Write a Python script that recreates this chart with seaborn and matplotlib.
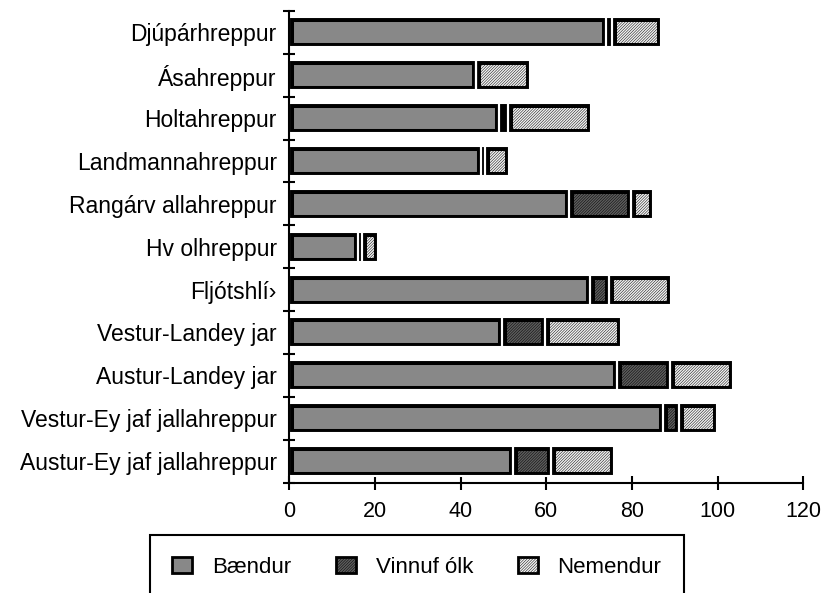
import matplotlib
matplotlib.use('Agg')
import matplotlib.pyplot as plt
from matplotlib.patches import Patch, Rectangle
import numpy as np
import pandas as pd
import seaborn as sns

# Hreppar from top to bottom, as they are written in the chart
hreppar = ['Djúpárhreppur', 'Ásahreppur', 'Holtahreppur', 'Landmannahreppur',
           'Rangárv allahreppur', 'Hv olhreppur', 'Fljótshlí›', 'Vestur-Landey jar',
           'Austur-Landey jar', 'Vestur-Ey jaf jallahreppur', 'Austur-Ey jaf jallahreppur']

# Values
baendur = [74, 43.5, 49, 44.8, 65.2, 16, 70.3, 49.7, 76.5, 87.2, 52.2]
vinnufolk = [1.3, 0, 2, 1, 14.5, 1, 4.3, 10, 12.5, 3.8, 8.8]
nemendur = [11.5, 12.7, 19.4, 5.6, 5.3, 3.8, 14.6, 17.8, 14.7, 8.9, 14.7]

series_names = ['Bændur', 'Vinnuf ólk', 'Nemendur']
x_ticks = [0, 20, 40, 60, 80, 100, 120]

df = pd.DataFrame({'hreppur': hreppar,
                   'Bændur': baendur,
                   'Vinnuf ólk': vinnufolk,
                   'Nemendur': nemendur})

sns.set_style('ticks', rc={'axes.edgecolor': 'black', 'text.color': 'black',
                           'xtick.color': 'black', 'ytick.color': 'black'})
plt.rcParams['font.family'] = ['Liberation Sans', 'DejaVu Sans']
plt.rcParams['hatch.linewidth'] = 0.35

fills = ['#888888', '#5e5e5e', '#f2f2f2']
hatches = [None, '////////////', '////////////']

fig = plt.figure(figsize=(8.27, 5.93), dpi=100)
ax = fig.add_axes([0.3498, 0.1863, 0.6215, 0.7952])

# stacked bars, each series starts where the previous ended
left = np.zeros(len(df))
for name, fill, hatch in zip(series_names, fills, hatches):
    sns.barplot(data=df, x=name, y='hreppur', left=left, color=fill, saturation=1,
                width=0.7, errorbar=None, edgecolor='black', linewidth=6.5,
                hatch=hatch, ax=ax)
    left = left + df[name].values

# black border drawn inside each segment, thin white gap between segments
for p in list(ax.patches):
    p.set_clip_path(p)
    ax.add_patch(Rectangle(p.get_xy(), p.get_width(), p.get_height(), fill=False,
                           edgecolor='white', linewidth=1.5, zorder=p.get_zorder() + 0.1))

ax.set_xlim(0, 120)
ax.set_xticks(x_ticks)
ax.set_ylim(len(hreppar) - 0.5, -0.5)
ax.set_yticks(np.arange(-0.5, len(hreppar)), minor=True)
ax.set_xlabel('')
ax.set_ylabel('')

ax.tick_params(axis='x', direction='inout', length=10, width=1.5, pad=8, labelsize=15.5)
ax.tick_params(axis='y', which='major', length=0, pad=9, labelsize=16.5)
ax.tick_params(axis='y', which='minor', direction='inout', length=9, width=1.5)

ax.spines[['top', 'right']].set_visible(False)
ax.spines[['left', 'bottom']].set_linewidth(1.5)

handles = [Patch(facecolor=f, hatch=h, edgecolor='black', linewidth=2, label=n)
           for n, f, h in zip(series_names, fills, hatches)]
leg = fig.legend(handles=handles, loc='upper center', bbox_to_anchor=(0.504, 0.098),
                 ncol=3, frameon=True, fancybox=False, edgecolor='black', fontsize=16,
                 handlelength=0.9, handleheight=0.75, handletextpad=0.9,
                 columnspacing=2.0, borderpad=1.0, borderaxespad=0, framealpha=1)
leg.get_frame().set_linewidth(1.5)

plt.savefig('out.png', dpi=100)
